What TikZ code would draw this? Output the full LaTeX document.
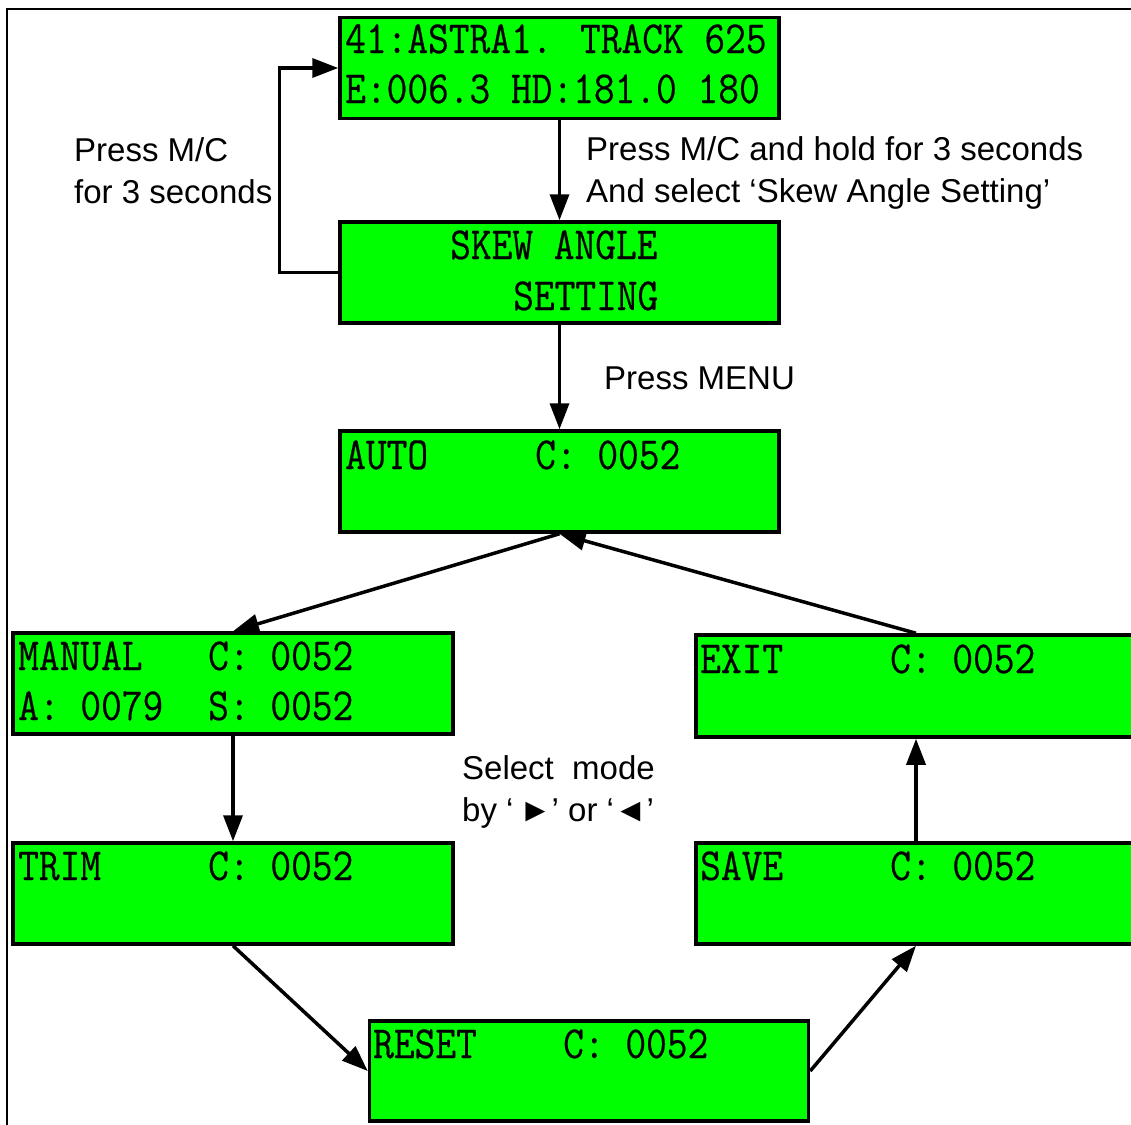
\documentclass[tikz,border=0pt]{standalone}
\usepackage{fontspec}
\setmainfont{Liberation Sans}
\newfontfamily\lcdfont[FakeStretch=0.875,FakeBold=0.4]{Latin Modern Mono}
\usetikzlibrary{arrows.meta}
\definecolor{lcdgreen}{HTML}{00FF00}
\tikzset{
  lcdbox/.style={draw=black, fill=lcdgreen, line width=3.5pt, rectangle, inner sep=0pt, minimum width=439pt, minimum height=101pt},
  lcdtxt/.style={anchor=base west, inner sep=0pt, font=\lcdfont\fontsize{46}{46}\selectfont},
  lbl/.style={anchor=base west, inner sep=0pt, font=\fontsize{33}{40}\selectfont},
  arr/.style={line width=3.5pt, -{Triangle[length=26pt,width=19pt]}},
}
\begin{document}
\begin{tikzpicture}[x=1pt,y=-1pt]
\useasboundingbox (0,0) rectangle (1131,1124);
\clip (0,0) rectangle (1131,1124);
\fill[white] (0,0) rectangle (1131,1124);
\draw[line width=2pt] (7,9) rectangle (1160,1160);

% boxes
\node[lcdbox] (b1) at (559.5,68) {};
\node[lcdbox] (b2) at (559.5,272.5) {};
\node[lcdbox] (b3) at (559.5,481.5) {};
\node[lcdbox, minimum width=440pt] (b4) at (233,683.5) {};
\node[lcdbox, minimum width=440pt] (b5) at (233,893.5) {};
\node[lcdbox, minimum width=440pt, minimum height=102pt] (b6) at (916,686) {};
\node[lcdbox, minimum width=440pt] (b7) at (916,893.5) {};
\node[lcdbox, minimum height=100pt] (b8) at (589,1071) {};

% LCD texts
\node[lcdtxt] (t1a) at (345,53) {41:ASTRA1. TRACK 625};
\node[lcdtxt] (t1b) at (345,103) {E:006.3 HD:181.0 180};
\node[lcdtxt] (t2a) at (450,259) {SKEW ANGLE};
\node[lcdtxt] (t2b) at (513,310) {SETTING};
\node[lcdtxt] (t3a) at (345,469) {AUTO};
\node[lcdtxt] (t3b) at (535,469) {C: 0052};
\node[lcdtxt] (t4a) at (18,670) {MANUAL};
\node[lcdtxt] (t4b) at (208,670) {C: 0052};
\node[lcdtxt] (t4c) at (18,720) {A: 0079};
\node[lcdtxt] (t4d) at (208,720) {S: 0052};
\node[lcdtxt] (t5a) at (18,880) {TRIM};
\node[lcdtxt] (t5b) at (208,880) {C: 0052};
\node[lcdtxt] (t6a) at (700,673) {EXIT};
\node[lcdtxt] (t6b) at (890,673) {C: 0052};
\node[lcdtxt] (t7a) at (700,880) {SAVE};
\node[lcdtxt] (t7b) at (890,880) {C: 0052};
\node[lcdtxt] (t8a) at (373,1058) {RESET};
\node[lcdtxt] (t8b) at (563,1058) {C: 0052};

% labels
\node[lbl] (l1a) at (74,161) {Press M/C};
\node[lbl] (l1b) at (74,203) {for 3 seconds};
\node[lbl] (l2a) at (586,160) {Press M/C and hold for 3 seconds};
\node[lbl] (l2b) at (586,202) {And select ‘Skew Angle Setting’};
\node[lbl] (l3) at (604,389) {Press MENU};
\node[lbl] (l4a) at (462,779) {Select\ \ mode};
\node[lbl] (l4b) at (462,821) {by ‘\,►’ or ‘◄’};

% connectors
\draw[arr] (b2.west) -- ++(-59,0) |- (b1.west);
\draw[arr] (b1.south) -- (b2.north);
\draw[arr] (b2.south) -- (b3.north);
\draw[arr] (b3.south) -- (b4.north);
\draw[arr] (b4.south) -- (b5.north);
\draw[arr] (b5.south) -- (b8.west);
\draw[arr] (b8.east) -- (b7.south);
\draw[arr] (b7.north) -- (b6.south);
\draw[arr] (b6.north) -- (b3.south);
\end{tikzpicture}
\end{document}
